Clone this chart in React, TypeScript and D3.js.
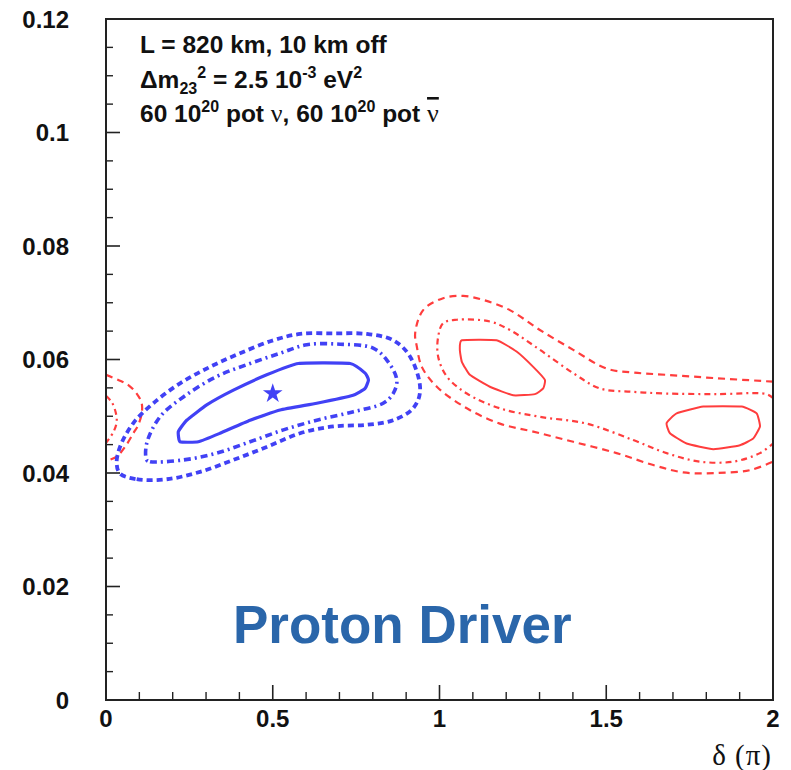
import React from "react";
import * as d3 from "d3";

const xTickValues = [0, 0.5, 1, 1.5, 2];
const xTickLabels = ["0", "0.5", "1", "1.5", "2"];
const yTickValues = [0, 0.02, 0.04, 0.06, 0.08, 0.1, 0.12];
const yTickLabels = ["0", "0.02", "0.04", "0.06", "0.08", "0.1", "0.12"];

// Blue contours (neutrino true point)
const blueSolid: [number, number][] = [
  [0.217, 0.0473], [0.222, 0.0455], [0.277, 0.0455], [0.342, 0.047], [0.432, 0.0493],
  [0.522, 0.0511], [0.632, 0.0523], [0.741, 0.0537], [0.777, 0.0549], [0.787, 0.0564],
  [0.777, 0.0576], [0.732, 0.0593], [0.577, 0.0593], [0.482, 0.0573], [0.382, 0.0546],
  [0.302, 0.052], [0.242, 0.0493],
];
const blueDashDot: [number, number][] = [
  [0.122, 0.0423], [0.132, 0.042], [0.232, 0.0423], [0.332, 0.0435], [0.432, 0.0455],
  [0.532, 0.0476], [0.632, 0.0493], [0.742, 0.0508], [0.831, 0.0523], [0.861, 0.054],
  [0.872, 0.0564], [0.842, 0.0599], [0.801, 0.062], [0.702, 0.0627], [0.602, 0.0626],
  [0.522, 0.0611], [0.432, 0.0593], [0.332, 0.057], [0.232, 0.0534], [0.162, 0.0499],
  [0.122, 0.0452],
];
const blueDashed: [number, number][] = [
  [0.042, 0.0399], [0.092, 0.0389], [0.182, 0.0389], [0.282, 0.0402], [0.382, 0.0423],
  [0.482, 0.0446], [0.582, 0.047], [0.682, 0.0482], [0.782, 0.0485], [0.861, 0.0493],
  [0.921, 0.0514], [0.942, 0.0546], [0.912, 0.0605], [0.861, 0.0634], [0.782, 0.0645],
  [0.682, 0.0646], [0.582, 0.0645], [0.502, 0.0634], [0.402, 0.0611], [0.312, 0.0587],
  [0.222, 0.0558], [0.142, 0.0523], [0.082, 0.0488], [0.042, 0.0446], [0.032, 0.0417],
];
const starPoint: [number, number] = [0.5, 0.054];

// Red contours (fake solutions)
const redLeftDashed: [number, number][] = [
  [0, 0.0573], [0.037, 0.0564], [0.067, 0.0555], [0.092, 0.054], [0.107, 0.0523],
  [0.107, 0.0505], [0.097, 0.0485], [0.082, 0.047], [0.057, 0.0446], [0.032, 0.0429],
  [0, 0.0421],
];
const redLeftDashDot: [number, number][] = [
  [0, 0.0536], [0.017, 0.0525], [0.029, 0.0507], [0.032, 0.049], [0.022, 0.0472], [0, 0.0453],
];
const redDashed: [number, number][] = [
  [2.0, 0.0561], [1.831, 0.0567], [1.681, 0.0573], [1.581, 0.0577], [1.501, 0.0584],
  [1.401, 0.0617], [1.301, 0.0652], [1.211, 0.0687], [1.131, 0.0705], [1.071, 0.0712],
  [1.011, 0.0708], [0.951, 0.0687], [0.927, 0.0646], [0.932, 0.0623], [0.947, 0.0587],
  [0.992, 0.0552], [1.082, 0.0514], [1.181, 0.0487], [1.281, 0.0473], [1.401, 0.0455],
  [1.531, 0.0435], [1.641, 0.0414], [1.731, 0.0401], [1.831, 0.04], [1.931, 0.0405],
  [2.0, 0.042],
];
const redDashDot: [number, number][] = [
  [2.0, 0.0532], [1.981, 0.0539], [1.831, 0.0539], [1.681, 0.054], [1.581, 0.0543],
  [1.481, 0.0549], [1.401, 0.0576], [1.301, 0.0617], [1.211, 0.0652], [1.151, 0.0667],
  [1.052, 0.067], [1.011, 0.0664], [0.996, 0.064], [0.996, 0.0605], [1.022, 0.057],
  [1.082, 0.054], [1.181, 0.0514], [1.301, 0.0499], [1.441, 0.0487], [1.581, 0.0458],
  [1.681, 0.0435], [1.781, 0.042], [1.881, 0.042], [1.961, 0.0435], [2.0, 0.0452],
];
const redSolidA: [number, number][] = [
  [1.067, 0.0634], [1.171, 0.0634], [1.231, 0.0614], [1.281, 0.0587], [1.316, 0.0564],
  [1.311, 0.0549], [1.286, 0.0539], [1.221, 0.0537], [1.151, 0.0552], [1.091, 0.0573],
  [1.067, 0.0596], [1.061, 0.0617],
];
const redSolidB: [number, number][] = [
  [1.681, 0.0488], [1.711, 0.0505], [1.791, 0.0517], [1.906, 0.0517], [1.951, 0.0505],
  [1.961, 0.0482], [1.941, 0.0461], [1.901, 0.0449], [1.821, 0.0442], [1.741, 0.0452],
  [1.691, 0.047],
];

const X0 = 106, X1 = 773, Y0 = 700, Y1 = 19;
const BLUE = "#4141f5";
const RED = "#ff3d3d";
const SANS = "'Liberation Sans', Arial, Helvetica, sans-serif";
const SERIF = "'Liberation Serif', 'Times New Roman', serif";

export default function App() {
  const x = d3.scaleLinear().domain([0, 2]).range([X0, X1]);
  const y = d3.scaleLinear().domain([0, 0.12]).range([Y0, Y1]);

  const closed = d3.line<[number, number]>().x(d => x(d[0])).y(d => y(d[1])).curve(d3.curveCatmullRomClosed.alpha(0.5));
  const open = d3.line<[number, number]>().x(d => x(d[0])).y(d => y(d[1])).curve(d3.curveCatmullRom.alpha(0.5));
  const closedLin = d3.line<[number, number]>().x(d => x(d[0])).y(d => y(d[1])).curve(d3.curveCardinalClosed.tension(0.6));

  const xMinor = d3.range(0, 2.0001, 0.1).filter(v => Math.abs(v * 2 - Math.round(v * 2)) > 1e-6);
  const yMinor = d3.range(0, 0.12001, 0.005).filter(v => Math.abs(v / 0.02 - Math.round(v / 0.02)) > 1e-6);

  const star = d3.symbol().type(d3.symbolStar).size(120)();

  return (
    <svg width={791} height={770} style={{ position: "absolute", left: 0, top: 0, background: "#fff" }}>
      <rect x={0} y={0} width={791} height={770} fill="#fff" />
      <defs>
        <clipPath id="plotClip">
          <rect x={X0} y={Y1} width={X1 - X0} height={Y0 - Y1} />
        </clipPath>
      </defs>

      <g clipPath="url(#plotClip)" fill="none">
        {/* red */}
        <path d={open(redLeftDashed) || ""} stroke={RED} strokeWidth={2.2} strokeDasharray="7 5" />
        <path d={open(redLeftDashDot) || ""} stroke={RED} strokeWidth={2.2} strokeDasharray="6 4 2 4" />
        <path d={open(redDashed) || ""} stroke={RED} strokeWidth={2.2} strokeDasharray="7 5" />
        <path d={open(redDashDot) || ""} stroke={RED} strokeWidth={2.2} strokeDasharray="6 4 2 4" />
        <path d={closedLin(redSolidA) || ""} stroke={RED} strokeWidth={2} />
        <path d={closedLin(redSolidB) || ""} stroke={RED} strokeWidth={2} />
        {/* blue */}
        <path d={closed(blueDashed) || ""} stroke={BLUE} strokeWidth={3.8} strokeDasharray="6 4" />
        <path d={closed(blueDashDot) || ""} stroke={BLUE} strokeWidth={3.6} strokeDasharray="7 4 2 4" />
        <path d={closedLin(blueSolid) || ""} stroke={BLUE} strokeWidth={3.2} />
        <path d={star || ""} transform={`translate(${x(starPoint[0])},${y(starPoint[1])})`} fill={BLUE} stroke="none" />
      </g>

      {/* frame */}
      <rect x={X0} y={Y1} width={X1 - X0} height={Y0 - Y1} fill="none" stroke="#222" strokeWidth={2} />

      {/* x ticks */}
      {xTickValues.map(v => (
        <line key={"xM" + v} x1={x(v)} x2={x(v)} y1={Y0} y2={Y0 - 15} stroke="#222" strokeWidth={1.6} />
      ))}
      {xMinor.map(v => (
        <line key={"xm" + v} x1={x(v)} x2={x(v)} y1={Y0} y2={Y0 - 8} stroke="#222" strokeWidth={1.4} />
      ))}
      {/* y ticks */}
      {yTickValues.map(v => (
        <line key={"yM" + v} x1={X0} x2={X0 + 14} y1={y(v)} y2={y(v)} stroke="#222" strokeWidth={1.6} />
      ))}
      {yMinor.map(v => (
        <line key={"ym" + v} x1={X0} x2={X0 + 7} y1={y(v)} y2={y(v)} stroke="#222" strokeWidth={1.4} />
      ))}

      {/* tick labels */}
      <g fontFamily={SANS} fontWeight="bold" fontSize={24} fill="#111">
        {xTickValues.map((v, i) => (
          <text key={"xl" + v} x={x(v)} y={727} textAnchor="middle">{xTickLabels[i]}</text>
        ))}
        {yTickValues.map((v, i) => (
          <text key={"yl" + v} x={69} y={y(v) + 8.5} textAnchor="end">{yTickLabels[i]}</text>
        ))}
      </g>

      {/* axis title */}
      <text x={772} y={765} textAnchor="end" fontFamily={SERIF} fontSize={29} letterSpacing={1} fill="#111">δ (π)</text>

      {/* info box */}
      <g fontFamily={SANS} fontWeight="bold" fontSize={24.5} fill="#111">
        <text x={140} y={53}>L = 820 km, 10 km off</text>
        <text x={140} y={88}>
          Δm<tspan fontSize={16} dy={6}>23</tspan><tspan fontSize={16} dy={-16}>2</tspan>
          <tspan dy={10}> = 2.5 10</tspan><tspan fontSize={16} dy={-10}>-3</tspan>
          <tspan dy={10}> eV</tspan><tspan fontSize={16} dy={-10}>2</tspan>
        </text>
        <text x={140} y={122}>
          60 10<tspan fontSize={16} dy={-10}>20</tspan>
          <tspan dy={10}> pot </tspan><tspan fontFamily={SERIF} fontWeight="normal" fontSize={26}>ν</tspan>
          <tspan>, 60 10</tspan><tspan fontSize={16} dy={-10}>20</tspan>
          <tspan dy={10}> pot </tspan><tspan fontFamily={SERIF} fontWeight="normal" fontSize={26} style={{ textDecoration: "overline" }}>ν</tspan>
        </text>
      </g>

      {/* overlay title */}
      <text x={233} y={643} fontFamily={SANS} fontWeight="bold" fontSize={53} fill="#2a66aa">Proton Driver</text>
    </svg>
  );
}
